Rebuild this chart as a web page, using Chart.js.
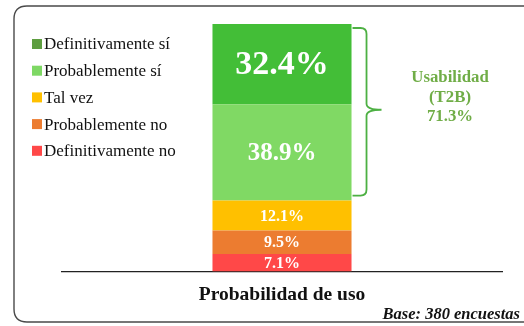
<!DOCTYPE html>
<html>
<head>
<meta charset="utf-8">
<script src="https://cdn.jsdelivr.net/npm/chart.js@4"></script>
<style>
  html, body { margin: 0; padding: 0; background: #fff; }
  #wrap { width: 524px; height: 326px; }
</style>
</head>
<body>
<div id="wrap"><canvas id="myChart" width="524" height="326"></canvas></div>
<script>
// answers, listed from the bottom of the stack upwards
var categories = ['Probabilidad de uso'];
var answers = ['Definitivamente no', 'Probablemente no', 'Tal vez', 'Probablemente sí', 'Definitivamente sí'];
var shares = [7.1, 9.5, 12.1, 38.9, 32.4];
var colors = ['#FF4848', '#EC7C30', '#FFC000', '#80D964', '#43BE37'];
var legendColors = ['#FF4848', '#EC7C30', '#FFC000', '#7ED864', '#5E9E40'];
var labelSizes = [16, 16, 16, 25, 34];
var topTwo = ['Usabilidad', '(T2B)', '71.3%'];
var baseNote = 'Base: 380 encuestas';

var serif = '"Liberation Serif", "Times New Roman", serif';

// rounded frame around the whole chart
const framePlugin = {
    id: 'frame',
    beforeDraw(chart) {
        const c = chart.ctx;
        c.save();
        c.strokeStyle = '#4a4a4a';
        c.lineWidth = 1.4;
        const l = 14, t = 6, b = 322, r = 540, rad = 13;
        c.beginPath();
        c.moveTo(r, t);
        c.lineTo(l + rad, t);
        c.quadraticCurveTo(l, t, l, t + rad);
        c.lineTo(l, b - rad);
        c.quadraticCurveTo(l, b, l + rad, b);
        c.lineTo(r, b);
        c.stroke();
        c.restore();
    }
};

// legend on the left, top item first
const sideLegend = {
    id: 'sideLegend',
    afterDraw(chart) {
        const c = chart.ctx;
        c.save();
        c.font = '17px ' + serif;
        c.textBaseline = 'middle';
        c.fillStyle = '#111';
        const n = answers.length;
        for (var i = 0; i < n; i++) {
            const k = n - 1 - i;
            const y = 44 + i * 26.7;
            c.fillStyle = legendColors[k];
            c.fillRect(32, y - 5, 10, 10);
            c.fillStyle = '#111';
            c.fillText(answers[k], 44, y + 1);
        }
        c.restore();
    }
};

// percentages inside each segment, brace and T2B note
const valueLabels = {
    id: 'valueLabels',
    afterDatasetsDraw(chart) {
        const c = chart.ctx;
        c.save();
        c.textAlign = 'center';
        c.textBaseline = 'middle';
        c.fillStyle = '#fff';
        chart.data.datasets.forEach(function(ds, i) {
            const bar = chart.getDatasetMeta(i).data[0];
            const mid = (bar.y + bar.base) / 2;
            c.font = 'bold ' + labelSizes[i] + 'px ' + serif;
            c.fillText(ds.data[0].toFixed(1) + '%', bar.x, mid + 1);
        });

        // brace over the two "sí" segments
        const y = chart.scales.y;
        const top = y.getPixelForValue(100) + 4;
        const bottom = y.getPixelForValue(shares[0] + shares[1] + shares[2]) - 5;
        const bar = chart.getDatasetMeta(4).data[0];
        const x0 = bar.x + bar.width / 2 + 1;
        const x1 = x0 + 14;
        const tip = x0 + 29;
        const mid = (top + bottom) / 2 - 2;
        c.strokeStyle = '#4DB043';
        c.lineWidth = 1.8;
        c.beginPath();
        c.moveTo(x0, top);
        c.lineTo(x1 - 6, top);
        c.quadraticCurveTo(x1, top, x1, top + 6);
        c.lineTo(x1, mid - 6);
        c.quadraticCurveTo(x1, mid, tip, mid);
        c.quadraticCurveTo(x1, mid, x1, mid + 6);
        c.lineTo(x1, bottom - 6);
        c.quadraticCurveTo(x1, bottom, x1 - 6, bottom);
        c.lineTo(x0, bottom);
        c.stroke();

        c.fillStyle = '#70AD47';
        c.font = 'bold 16.8px ' + serif;
        topTwo.forEach(function(t, i) {
            c.fillText(t, 450, 78 + i * 19.5);
        });

        c.fillStyle = '#111';
        c.textAlign = 'right';
        c.font = 'italic bold 16.5px ' + serif;
        c.fillText(baseNote, 520, 315);
        c.restore();
    }
};

document.addEventListener('DOMContentLoaded', function() {
var ctx = document.getElementById('myChart').getContext('2d');

var myChart = new Chart(ctx, {
    type: 'bar',
    data: {
        labels: categories,
        datasets: answers.map(function(name, i) {
            return {
                label: name,
                data: [shares[i]],
                backgroundColor: colors[i],
                borderWidth: 0,
                barPercentage: 1,
                categoryPercentage: 0.316
            };
        })
    },
    options: {
        responsive: false,
        animation: false,
        layout: {
            padding: { left: 62, right: 22, top: 24, bottom: 19 }
        },
        plugins: {
            legend: { display: false },
            tooltip: { enabled: false }
        },
        scales: {
            x: {
                stacked: true,
                grid: { display: false, drawTicks: false },
                border: { display: true, color: '#222', width: 1.2 },
                ticks: { display: false },
                title: {
                    display: true,
                    text: 'Probabilidad de uso',
                    color: '#111',
                    font: { family: serif, size: 19.5, weight: 'bold' },
                    padding: { top: 12, bottom: 0 }
                }
            },
            y: {
                stacked: true,
                display: false,
                min: 0,
                max: 100
            }
        }
    },
    plugins: [framePlugin, sideLegend, valueLabels]
});
});
</script>
</body>
</html>
